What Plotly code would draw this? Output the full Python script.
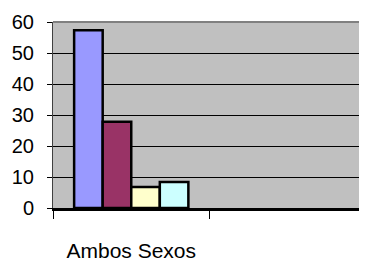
import plotly.graph_objects as go

categories = ["Ambos Sexos", " "]
series_names = ["Serie 1", "Serie 2", "Serie 3", "Serie 4"]
series_values = [57.3, 27.8, 6.8, 8.4]
series_colors = ["#9999FF", "#993366", "#FFFFCC", "#CCFFFF"]
y_ticks = [0, 10, 20, 30, 40, 50, 60]

fig = go.Figure()
for name, val, col in zip(series_names, series_values, series_colors):
    fig.add_trace(go.Bar(
        x=[categories[0]], y=[val], name=name,
        marker=dict(color=col, line=dict(color="black", width=2.5)),
    ))

fig.update_layout(
    width=359, height=255,
    margin=dict(l=45, r=1, t=14, b=55),
    paper_bgcolor="white", plot_bgcolor="#C0C0C0",
    barmode="group", bargap=0.27, bargroupgap=0,
    showlegend=False,
    font=dict(family="Liberation Sans, Arial, sans-serif", color="black", size=18),
    xaxis=dict(
        type="category", categoryorder="array", categoryarray=categories,
        range=[-0.5, 1.5], tickson="boundaries",
        ticks="outside", ticklen=8, tickcolor="black", tickwidth=1,
        showline=True, linecolor="black", linewidth=3,
        showgrid=False, ticklabelstandoff=22, automargin=False,
        tickfont=dict(size=21),
    ),
    yaxis=dict(
        range=[0, 60], tickvals=y_ticks,
        ticks="outside", ticklen=5, tickcolor="black", tickwidth=1,
        showline=True, linecolor="#404040", linewidth=1,
        showgrid=True, gridcolor="black", gridwidth=1,
        zeroline=False, tickfont=dict(size=20),
        ticklabelstandoff=9, automargin=False,
    ),
    shapes=[dict(type="line", xref="paper", yref="paper", x0=0, x1=1, y0=1, y1=1,
                 line=dict(color="#808080", width=2))],
)

fig.write_html("out.html")
